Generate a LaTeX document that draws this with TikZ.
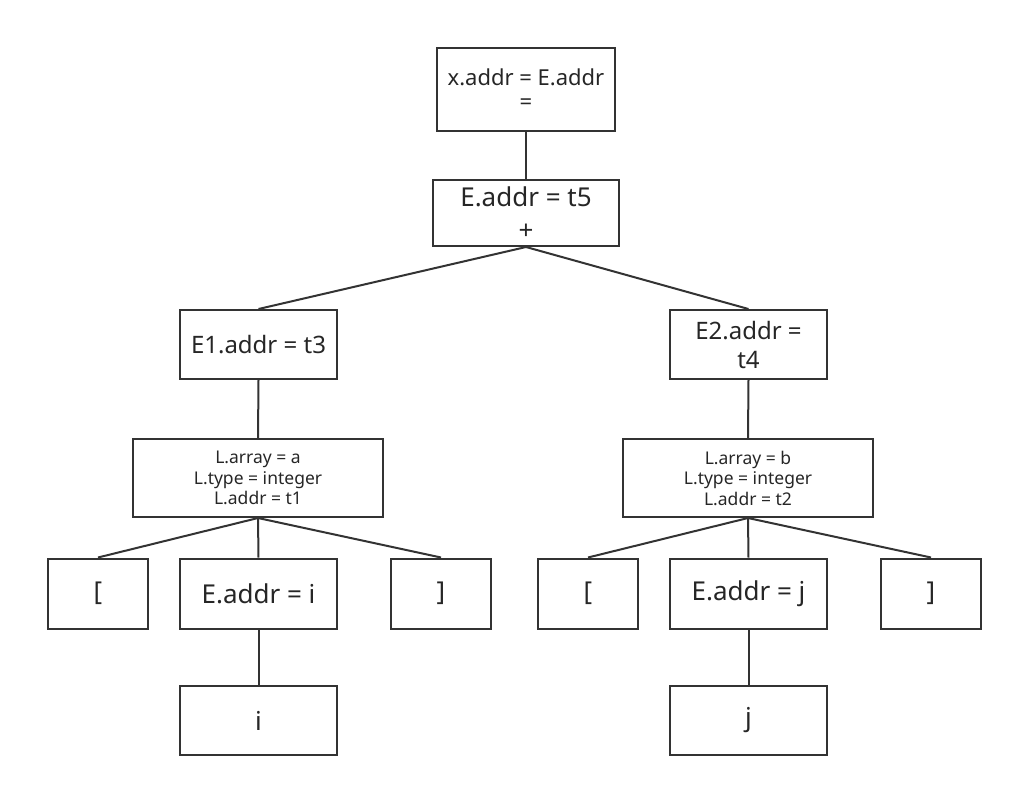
\documentclass[tikz,border=0pt]{standalone}
\usepackage{fontspec}
\setmainfont{Noto Sans}
\begin{document}
\begin{tikzpicture}[x=1pt,y=-1pt,
  box/.style={draw=black!80, line width=2pt, rectangle, inner sep=0pt, align=center, text=black!85},
  edge/.style={draw=black!80, line width=2pt},
  fa/.style={font=\fontsize{22}{24}\selectfont},
  fb/.style={font=\fontsize{26}{33}\selectfont},
  fc/.style={font=\fontsize{24}{29}\selectfont},
  fd/.style={font=\fontsize{26}{29}\selectfont},
  fl/.style={font=\fontsize{17.5}{20.5}\selectfont}]
\useasboundingbox (0,0) rectangle (1013,788);
\node[box,fa,minimum width=178pt,minimum height=83pt] (top) at (526,89.5) {x.addr = E.addr\\=};
\node[box,fb,minimum width=186pt,minimum height=66pt] (e) at (526,213) {E.addr = t5\\+};
\node[box,fc,minimum width=157pt,minimum height=69pt] (e1) at (258.5,344.5) {E1.addr = t3};
\node[box,fc,minimum width=157pt,minimum height=69pt] (e2) at (748.5,344.5) {E2.addr =\\t4};
\node[box,fl,minimum width=250pt,minimum height=78pt] (la) at (258,478) {L.array = a\\L.type = integer\\L.addr = t1};
\node[box,fl,minimum width=250pt,minimum height=78pt] (lb) at (748,478) {L.array = b\\L.type = integer\\L.addr = t2};
\node[box,fd,minimum width=100pt,minimum height=70pt] (lbr1) at (98,593.5) {[};
\node[box,fd,minimum width=157pt,minimum height=70pt] (ei) at (258.5,593.5) {E.addr = i};
\node[box,fd,minimum width=100pt,minimum height=70pt] (rbr1) at (441,593.5) {]};
\node[box,fd,minimum width=100pt,minimum height=70pt] (lbr2) at (588,593.5) {[};
\node[box,fd,minimum width=157pt,minimum height=70pt] (ej) at (748.5,593.5) {E.addr = j};
\node[box,fd,minimum width=100pt,minimum height=70pt] (rbr2) at (931,593.5) {]};
\node[box,fd,minimum width=157pt,minimum height=69pt] (ii) at (258.5,720.5) {i};
\node[box,fd,minimum width=157pt,minimum height=69pt] (jj) at (748.5,720.5) {j};
\draw[edge] (top.south) -- (e.north);
\draw[edge] (e.south) -- (e1.north);
\draw[edge] (e.south) -- (e2.north);
\draw[edge] (e1.south) -- (la.north);
\draw[edge] (e2.south) -- (lb.north);
\draw[edge] (la.south) -- (lbr1.north);
\draw[edge] (la.south) -- (ei.north);
\draw[edge] (la.south) -- (rbr1.north);
\draw[edge] (lb.south) -- (lbr2.north);
\draw[edge] (lb.south) -- (ej.north);
\draw[edge] (lb.south) -- (rbr2.north);
\draw[edge] (ei.south) -- (ii.north);
\draw[edge] (ej.south) -- (jj.north);
\end{tikzpicture}
\end{document}
